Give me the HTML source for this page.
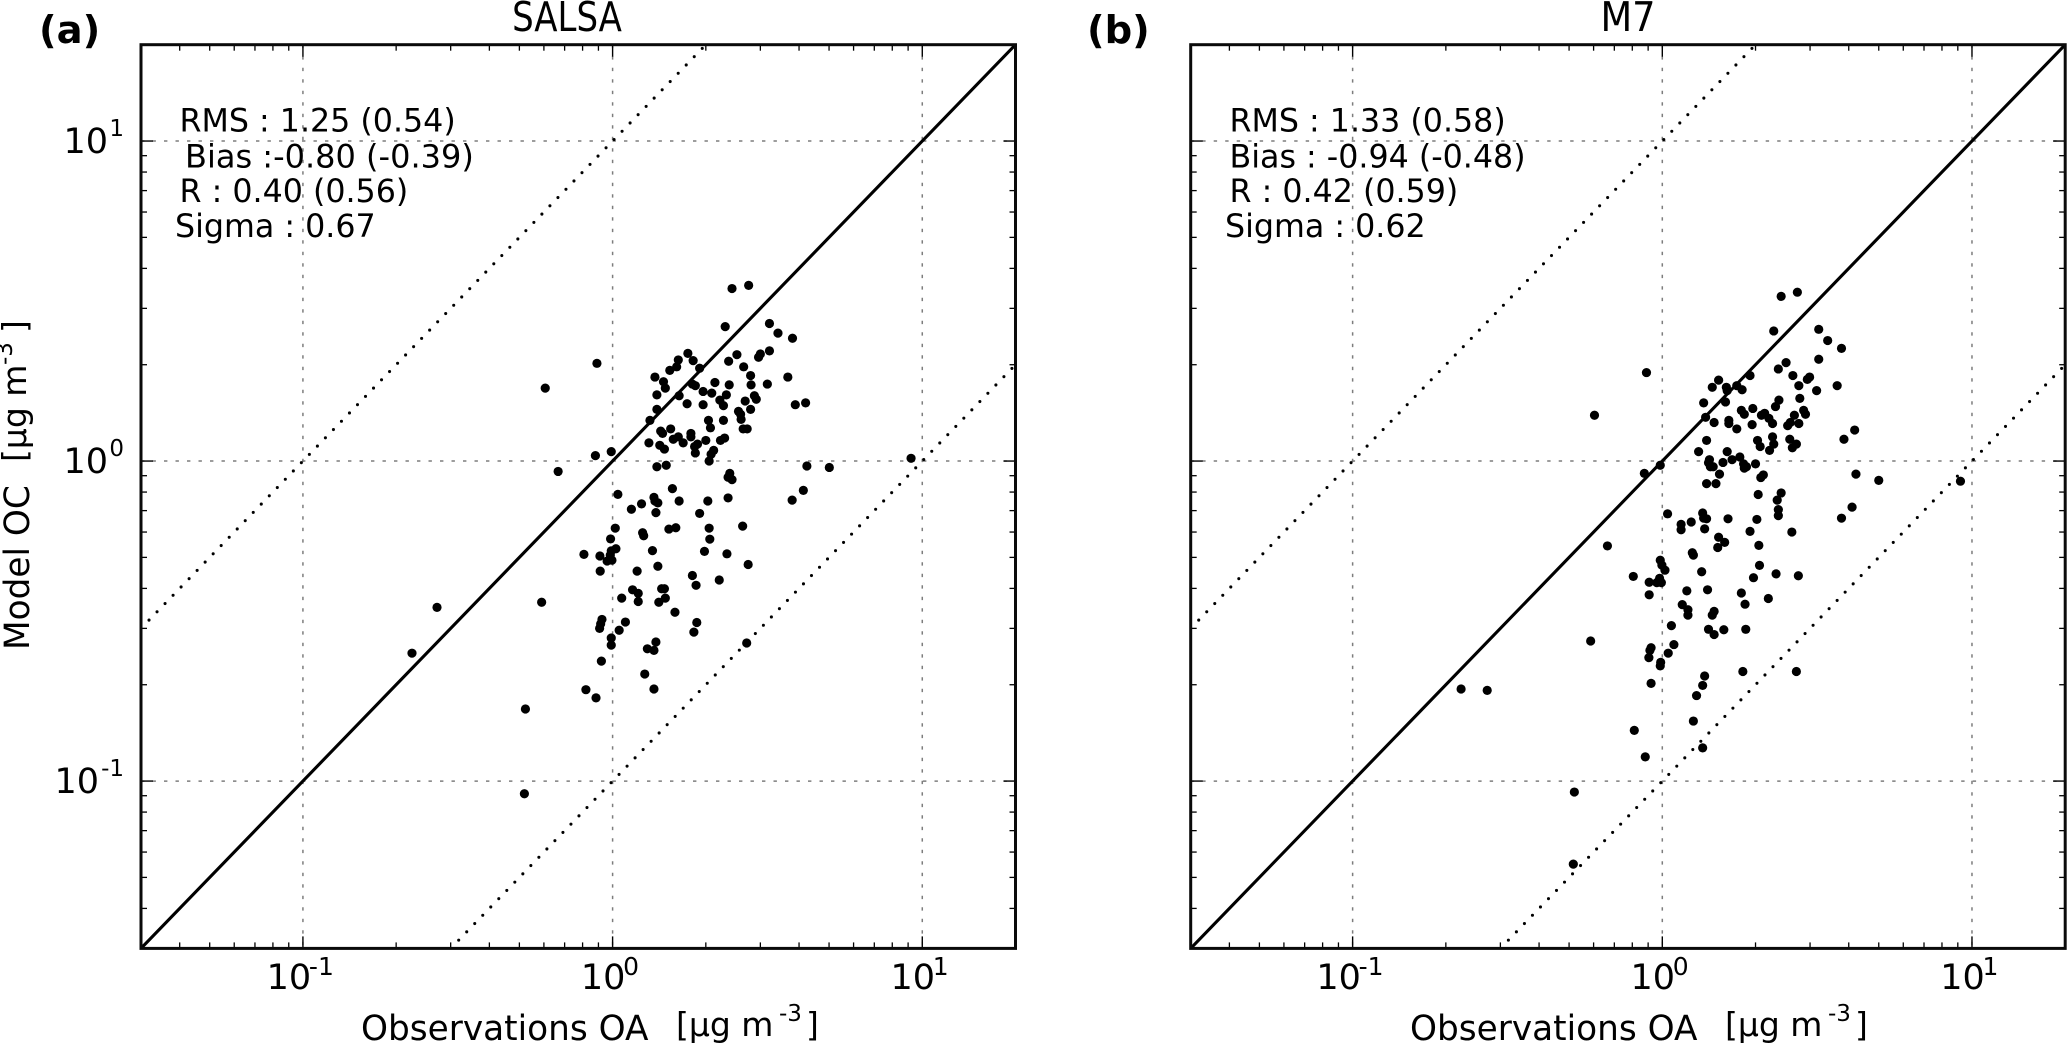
<!DOCTYPE html>
<html lang="en">
<head>
<meta charset="utf-8">
<title>SALSA and M7 scatter comparison</title>
<style>
html,body{margin:0;padding:0;background:#fff;}
body{width:2067px;height:1048px;overflow:hidden;}
svg{display:block;}
text{font-family:"DejaVu Sans","Liberation Sans",sans-serif;fill:#000;}
.stat{font-size:31.7px;}
.tick{font-size:35px;}
.sup{font-size:23px;}
.xsup{font-size:25px;}
.lab{font-size:34.3px;}
.lab2{font-size:33px;}
.title{font-size:34px;}
.tag{font-size:38.5px;font-weight:bold;}
</style>
</head>
<body>
<svg id="fig" xmlns="http://www.w3.org/2000/svg" width="2067" height="1048" viewBox="0 0 2067 1048">
  <rect width="2067" height="1048" fill="#fff"/>
  <g id="panel-a"></g>
  <g id="panel-b"></g>

  <text class="tag" x="39" y="43">(a)</text>
  <text class="title" transform="translate(567,31) scale(1,1.2)" text-anchor="middle">SALSA</text>
  <text class="stat" x="179.5" y="131.5">RMS : 1.25 (0.54)</text>
  <text class="stat" x="185" y="167.5" style="font-size:32px">Bias :-0.80 (-0.39)</text>
  <text class="stat" x="179.5" y="202">R : 0.40 (0.56)</text>
  <text class="stat" x="175" y="237">Sigma : 0.67</text>
  <text class="lab" x="361" y="1040">Observations OA</text>
  <text class="lab2" x="676" y="1036">[μg m</text>
  <text class="sup" x="779" y="1021">-3</text>
  <text class="lab2" x="806" y="1036">]</text>
  <text class="lab" transform="translate(29,650) rotate(-90)">Model OC</text>
  <text class="lab2" transform="translate(26,462) rotate(-90)">[μg m</text>
  <text class="sup" transform="translate(12,365) rotate(-90)">-3</text>
  <text class="lab2" transform="translate(26,333) rotate(-90)">]</text>

  <text class="tag" x="1087" y="43">(b)</text>
  <text class="title" transform="translate(1628,31) scale(1.08,1.2)" text-anchor="middle">M7</text>
  <text class="stat" x="1229.5" y="131.5">RMS : 1.33 (0.58)</text>
  <text class="stat" x="1229.5" y="167.5">Bias : -0.94 (-0.48)</text>
  <text class="stat" x="1229.5" y="202">R : 0.42 (0.59)</text>
  <text class="stat" x="1225" y="237">Sigma : 0.62</text>
  <text class="lab" x="1410" y="1040">Observations OA</text>
  <text class="lab2" x="1725" y="1036">[μg m</text>
  <text class="sup" x="1828" y="1021">-3</text>
  <text class="lab2" x="1855" y="1036">]</text>
</svg>
<script>
const salsaObs = [
  0.89,0.606,0.99,0.88,0.667,1.04,1.37,1.46,1.48,1.39,
  1.39,1.32,1.64,1.74,1.53,1.61,1.63,1.75,1.82,1.91,
  1.81,1.85,1.43,1.45,1.54,1.31,1.42,1.47,1.57,1.63,
  1.69,1.79,1.79,1.84,1.88,1.85,1.49,1.39,1.56,1.36,
  1.37,1.40,1.24,1.15,1.64,1.38,1.91,1.02,0.985,1.25,
  1.26,1.52,1.60,1.025,0.99,0.983,0.808,0.91,0.96,0.995,
  0.912,1.345,1.40,1.20,1.81,1.86,1.16,1.21,1.07,1.21,
  1.44,1.47,1.48,1.41,1.59,1.87,1.83,0.924,0.915,0.908,
  1.10,1.05,0.99,0.99,1.38,1.295,1.36,0.92,1.27,1.36,
  0.82,0.884,0.59,0.523,0.271,0.225,0.519,2.43,2.75,2.31,
  3.21,3.42,3.81,2.52,2.37,2.65,3.0,2.96,3.21,2.79,
  2.80,3.16,3.68,2.14,2.38,1.96,2.09,2.33,2.22,2.28,
  2.68,2.87,2.91,2.79,3.89,4.2,1.96,2.55,2.59,2.60,
  2.28,2.04,2.07,2.64,2.72,2.00,2.23,2.30,2.12,2.08,
  2.05,4.24,5.01,9.2,2.39,2.36,2.43,4.13,2.36,2.03,
  3.80,2.63,2.05,2.06,1.98,2.34,2.74,2.21,2.71
];
const salsaModel = [
  2.02,1.69,1.07,1.04,0.928,0.787,1.83,1.77,1.69,1.61,
  1.45,1.34,1.60,1.51,1.92,1.97,2.07,2.17,2.06,1.95,
  1.74,1.72,1.24,1.22,1.26,1.14,1.12,1.09,1.17,1.19,
  1.14,1.22,1.19,1.11,1.13,1.06,0.97,0.96,0.82,0.77,
  0.75,0.74,0.735,0.707,0.75,0.69,0.686,0.617,0.571,0.597,
  0.584,0.613,0.619,0.532,0.524,0.508,0.511,0.505,0.487,0.49,
  0.453,0.525,0.469,0.453,0.439,0.409,0.396,0.386,0.373,0.364,
  0.399,0.399,0.373,0.362,0.337,0.313,0.292,0.32,0.31,0.30,
  0.314,0.296,0.28,0.266,0.272,0.259,0.256,0.237,0.216,0.194,
  0.193,0.182,0.362,0.168,0.349,0.251,0.0913,3.46,3.54,2.63,
  2.69,2.51,2.42,2.15,2.05,1.97,2.16,2.11,2.21,1.85,
  1.73,1.74,1.83,1.76,1.73,1.65,1.63,1.61,1.55,1.49,
  1.54,1.60,1.56,1.45,1.50,1.52,1.50,1.43,1.40,1.35,
  1.34,1.34,1.27,1.26,1.26,1.16,1.16,1.18,1.08,1.05,
  1.00,0.965,0.955,1.02,0.915,0.89,0.875,0.81,0.767,0.75,
  0.755,0.626,0.617,0.57,0.522,0.513,0.475,0.425,0.27
];
const m7Obs = [
  0.889,0.604,0.875,0.985,1.39,1.31,1.62,1.42,1.41,1.43,
  1.46,1.53,1.57,1.68,1.78,1.83,1.84,1.87,2.00,1.39,
  1.49,2.04,2.42,2.35,2.08,2.12,1.45,1.52,1.61,1.62,
  1.74,1.81,1.60,1.36,1.38,1.47,1.64,1.64,1.74,1.80,
  1.84,1.96,1.95,1.92,2.29,2.42,2.73,2.37,2.51,2.64,
  2.76,2.78,2.38,2.32,2.09,2.14,2.21,2.27,2.54,2.59,
  2.67,2.76,2.03,2.07,2.27,2.29,2.22,2.58,2.63,2.71,
  3.20,3.42,3.79,3.20,2.99,2.94,3.15,3.67,2.86,2.90,
  4.18,3.86,4.22,5.00,9.18,1.04,1.35,1.36,1.39,1.24,
  1.15,1.15,1.37,1.52,1.51,0.665,1.25,1.26,0.985,0.997,
  1.02,1.34,0.806,0.907,0.98,0.96,0.993,0.907,1.20,1.40,
  1.16,1.21,1.21,1.47,1.45,1.07,1.41,1.47,1.09,0.92,
  0.912,0.905,1.045,0.988,0.985,1.37,1.35,1.29,0.92,0.587,
  0.224,0.272,1.26,0.812,0.881,1.35,0.52,0.516,1.63,2.02,
  2.37,2.37,2.62,1.92,1.59,2.05,2.06,2.33,1.97,2.75,
  1.80,2.20,1.85,1.58,1.86,1.82,2.71,3.79,4.10
];
const m7Model = [
  1.89,1.39,0.915,0.97,1.16,1.07,1.07,1.01,0.988,0.96,
  0.96,0.91,0.99,1.01,1.03,0.98,0.95,0.96,0.98,0.85,
  0.85,0.786,0.795,0.755,0.888,0.905,1.70,1.79,1.70,1.66,
  1.72,1.67,1.53,1.52,1.37,1.32,1.34,1.31,1.26,1.44,
  1.40,1.46,1.30,1.85,2.55,3.27,3.37,1.94,2.03,1.85,
  1.72,1.57,1.55,1.48,1.39,1.41,1.36,1.31,1.29,1.32,
  1.39,1.31,1.16,1.11,1.19,1.13,1.08,1.17,1.10,1.13,
  2.58,2.38,2.25,2.08,1.83,1.80,1.66,1.72,1.44,1.40,
  1.25,1.17,0.91,0.87,0.865,0.684,0.688,0.663,0.66,0.645,
  0.634,0.61,0.614,0.578,0.537,0.543,0.517,0.508,0.49,0.473,
  0.456,0.451,0.436,0.418,0.43,0.417,0.417,0.382,0.393,0.396,
  0.356,0.343,0.33,0.339,0.33,0.306,0.298,0.287,0.267,0.261,
  0.256,0.243,0.251,0.235,0.229,0.213,0.199,0.185,0.202,0.274,
  0.194,0.192,0.154,0.144,0.119,0.127,0.0924,0.055,0.66,0.657,
  0.705,0.675,0.60,0.603,0.557,0.545,0.472,0.444,0.432,0.438,
  0.387,0.372,0.357,0.297,0.298,0.22,0.22,0.663,0.718
];
const axisMin = 0.03;
const axisMax = 20;
const majorTicks = [0.1, 1, 10];
const tickBase = ['10', '10', '10'];
const tickExponents = ['-1', '0', '1'];
const minorMultipliers = [2, 3, 4, 5, 6, 7, 8, 9];
const minorDecades = [0.01, 0.1, 1, 10];
const oneToOneFactor = 1;
const upperBoundFactor = 10;
const lowerBoundFactor = 0.1;

const SVGNS = 'http://www.w3.org/2000/svg';
const plotTop = 44.7;
const plotBottom = 948.4;

function make(tag, parent, attrs) {
  const el = document.createElementNS(SVGNS, tag);
  for (const k in attrs) el.setAttribute(k, attrs[k]);
  parent.appendChild(el);
  return el;
}

function drawPanel(root, obs, model, left, right, clipId, showYLabels) {
  const span = Math.log10(axisMax) - Math.log10(axisMin);
  const sx = v => left + (Math.log10(v) - Math.log10(axisMin)) / span * (right - left);
  const sy = v => plotBottom - (Math.log10(v) - Math.log10(axisMin)) / span * (plotBottom - plotTop);

  const defs = make('defs', root, {});
  const clip = make('clipPath', defs, { id: clipId });
  make('rect', clip, { x: left, y: plotTop, width: right - left, height: plotBottom - plotTop });

  const body = make('g', root, { 'clip-path': 'url(#' + clipId + ')' });
  
  

  majorTicks.forEach(t => {
    const gv = make('line', body, { x1: sx(t), x2: sx(t), y1: plotTop, y2: plotBottom, stroke: '#7d7d7d', 'stroke-width': 1.5, 'stroke-dasharray': '3.4 8.1' });
    
    
    const gh = make('line', body, { x1: left, x2: right, y1: sy(t), y2: sy(t), stroke: '#7d7d7d', 'stroke-width': 1.5, 'stroke-dasharray': '3.4 8.1' });
    
    
  });

  const startX = axisMin;
  const endX = axisMax;
  const solid = make('line', body, {
    x1: sx(startX), y1: sy(startX * oneToOneFactor), x2: sx(endX), y2: sy(endX * oneToOneFactor),
    stroke: '#000', 'stroke-width': 3.1
  });
  
  

  const upper = make('line', body, {
    x1: sx(startX), y1: sy(startX * upperBoundFactor), x2: sx(endX), y2: sy(endX * upperBoundFactor),
    stroke: '#000', 'stroke-width': 3.1, 'stroke-linecap': 'round', 'stroke-dasharray': '0 11.53'
  });
  
  

  const lowStart = axisMin / lowerBoundFactor;
  const lower = make('line', body, {
    x1: sx(lowStart), y1: sy(lowStart * lowerBoundFactor), x2: sx(endX), y2: sy(endX * lowerBoundFactor),
    stroke: '#000', 'stroke-width': 3.1, 'stroke-linecap': 'round', 'stroke-dasharray': '0 11.53'
  });
  
  

  obs.forEach((v, i) => {
    const c = make('circle', body, { cx: sx(v), cy: sy(model[i]), r: 4.6, fill: '#000' });
    
    
  });

  const tick = (x1, y1, x2, y2, sw, name) => {
    const t = make('line', root, { x1: x1, y1: y1, x2: x2, y2: y2, stroke: '#000', 'stroke-width': sw });
    
    
  };
  const inRange = v => v > axisMin && v < axisMax;
  minorDecades.forEach(d => minorMultipliers.forEach(m => {
    const v = d * m;
    if (!inRange(v)) return;
    tick(sx(v), plotBottom, sx(v), plotBottom - 6, 1.3, 'x-minor-tick');
    tick(sx(v), plotTop, sx(v), plotTop + 6, 1.3, 'x-minor-tick');
    tick(left, sy(v), left + 6, sy(v), 1.3, 'y-minor-tick');
    tick(right, sy(v), right - 6, sy(v), 1.3, 'y-minor-tick');
  }));
  majorTicks.forEach(v => {
    tick(sx(v), plotBottom, sx(v), plotBottom - 12, 1.4, 'x-major-tick');
    tick(sx(v), plotTop, sx(v), plotTop + 12, 1.4, 'x-major-tick');
    tick(left, sy(v), left + 12, sy(v), 1.4, 'y-major-tick');
    tick(right, sy(v), right - 12, sy(v), 1.4, 'y-major-tick');
  });

  const frame = make('rect', root, { x: left, y: plotTop, width: right - left, height: plotBottom - plotTop, fill: 'none', stroke: '#0a0a0a', 'stroke-width': 3 });
  
  

  majorTicks.forEach((v, i) => {
    const exp = tickExponents[i];
    const supW = exp.length > 1 ? 24 : 15;
    const xl = make('text', root, { class: 'tick', x: sx(v) - supW / 2 - 2, y: 989, 'text-anchor': 'middle' });
    xl.textContent = tickBase[i];
    
    
    const xs = make('text', root, { class: 'xsup', x: sx(v) + 18 - supW / 2, y: 975 });
    xs.textContent = exp;
    
    
    if (showYLabels) {
      const yl = make('text', root, { class: 'tick', x: 124 - supW - 1, y: sy(v) + 12, 'text-anchor': 'end' });
      yl.textContent = tickBase[i];
      
      
      const ys = make('text', root, { class: 'sup', x: 124, y: sy(v) - 5, 'text-anchor': 'end' });
      ys.textContent = exp;
      
      
    }
  });
}

drawPanel(document.getElementById('panel-a'), salsaObs, salsaModel, 141, 1015.5, 'clip-a', true);
drawPanel(document.getElementById('panel-b'), m7Obs, m7Model, 1190.7, 2065.2, 'clip-b', false);
</script>
</body>
</html>
